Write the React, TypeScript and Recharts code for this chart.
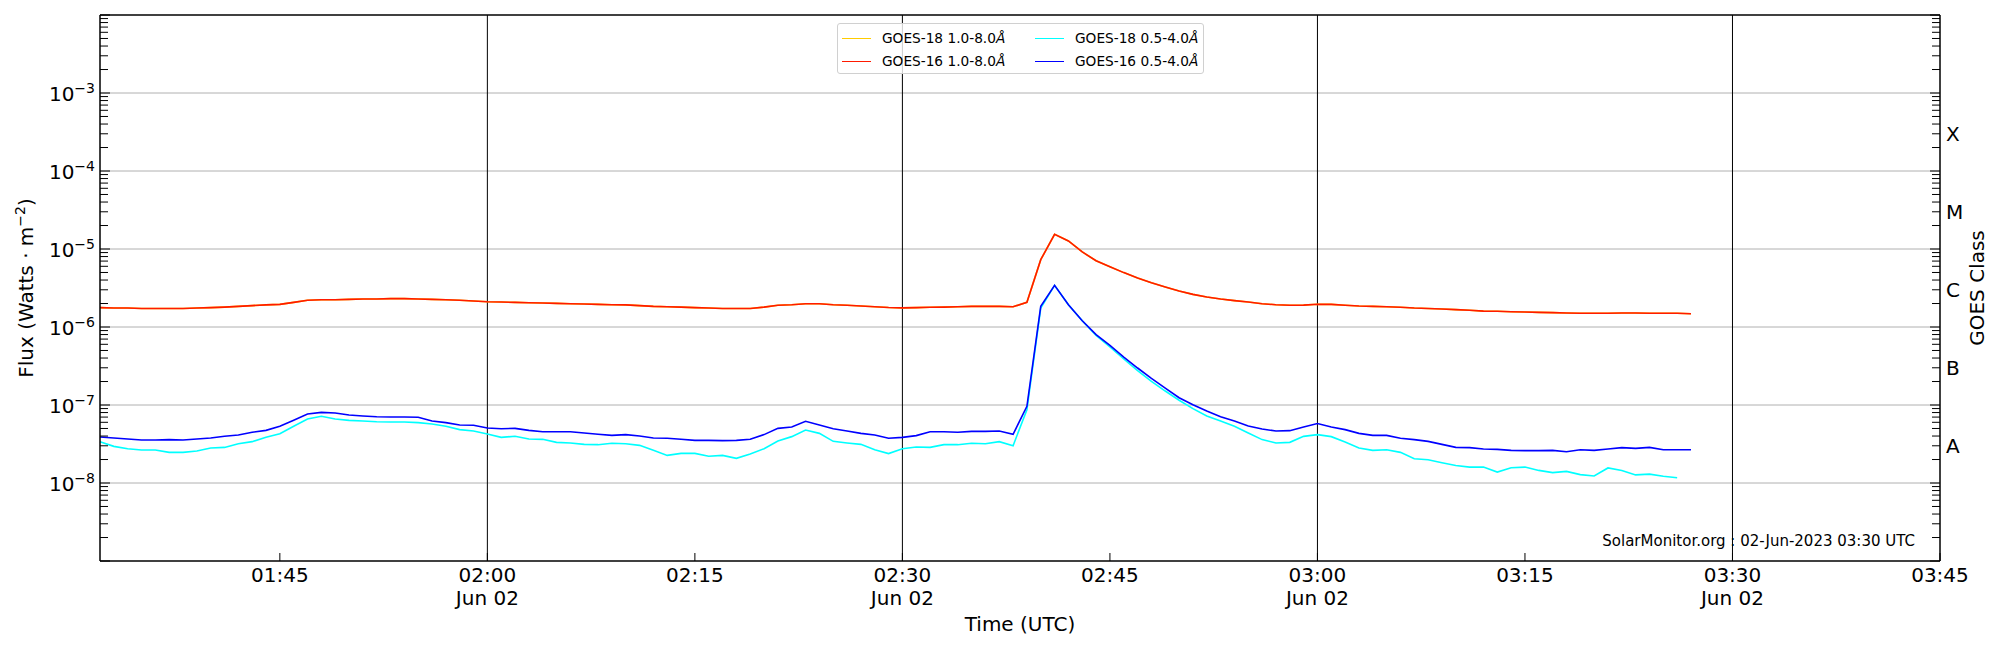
import { LineChart, Line, XAxis, YAxis, ReferenceLine, Legend } from "recharts";

const FONT = "'DejaVu Sans', sans-serif";

// one sample per minute starting at START
const START = "01:32";
const END = "03:45";

// GOES-16 1.0-8.0 Å, in units of 1e-6 W/m²
const goes16Long = [
  1.77, 1.75, 1.75, 1.73, 1.73, 1.73, 1.73, 1.75, 1.77, 1.8,
  1.84, 1.88, 1.92, 1.95, 2.07, 2.2, 2.24, 2.24, 2.26, 2.29,
  2.29, 2.31, 2.31, 2.29, 2.26, 2.24, 2.2, 2.15, 2.11, 2.09,
  2.07, 2.05, 2.03, 2.01, 1.99, 1.97, 1.95, 1.93, 1.92, 1.88,
  1.84, 1.82, 1.8, 1.77, 1.75, 1.73, 1.73, 1.73, 1.8, 1.9,
  1.93, 1.99, 1.99, 1.93, 1.9, 1.86, 1.82, 1.78, 1.76, 1.77,
  1.79, 1.8, 1.82, 1.84, 1.84, 1.84, 1.82, 2.07, 7.3, 15.4,
  12.7, 9.16, 7.08, 5.94, 4.98, 4.25, 3.7, 3.26, 2.9, 2.62,
  2.43, 2.29, 2.18, 2.09, 1.99, 1.93, 1.9, 1.91, 1.96, 1.95,
  1.9, 1.86, 1.84, 1.82, 1.79, 1.75, 1.73, 1.7, 1.67, 1.64,
  1.6, 1.59, 1.57, 1.56, 1.54, 1.53, 1.51, 1.5, 1.5, 1.5,
  1.51, 1.51, 1.5, 1.5, 1.5, 1.48
];

// GOES-18 1.0-8.0 Å sits right under the GOES-16 trace
const goes18Long = goes16Long;

// GOES-16 0.5-4.0 Å, in units of 1e-8 W/m²
const goes16Short = [
  3.89, 3.78, 3.67, 3.56, 3.56, 3.6, 3.56, 3.67, 3.78, 3.97,
  4.12, 4.47, 4.73, 5.33, 6.36, 7.67, 8.05, 7.9, 7.45, 7.23,
  7.08, 7.02, 7.02, 6.95, 6.24, 5.94, 5.54, 5.49, 5.07, 4.97,
  5.02, 4.73, 4.55, 4.55, 4.55, 4.38, 4.21, 4.08, 4.17, 4.01,
  3.78, 3.74, 3.63, 3.52, 3.52, 3.49, 3.52, 3.63, 4.17, 5.02,
  5.22, 6.18, 5.54, 4.97, 4.64, 4.33, 4.12, 3.74, 3.85, 4.05,
  4.55, 4.55, 4.47, 4.59, 4.59, 4.64, 4.21, 9.6, 184, 342,
  193, 120, 79.7, 58.2, 41.2, 29.8, 22.0, 16.5, 12.4, 10.1,
  8.37, 7.08, 6.23, 5.38, 4.92, 4.64, 4.69, 5.22, 5.8, 5.22,
  4.83, 4.33, 4.08, 4.08, 3.74, 3.6, 3.42, 3.13, 2.86, 2.84,
  2.73, 2.7, 2.62, 2.6, 2.6, 2.62, 2.52, 2.67, 2.62, 2.73,
  2.84, 2.78, 2.86, 2.67, 2.67, 2.67
];

// GOES-18 0.5-4.0 Å, in units of 1e-8 W/m²
const goes18Short = [
  3.39, 2.95, 2.75, 2.65, 2.65, 2.47, 2.47, 2.57, 2.81, 2.86,
  3.19, 3.39, 3.85, 4.29, 5.33, 6.62, 7.16, 6.62, 6.36, 6.24,
  6.11, 6.05, 6.05, 5.94, 5.71, 5.33, 4.83, 4.64, 4.25, 3.85,
  3.97, 3.67, 3.63, 3.32, 3.26, 3.13, 3.1, 3.23, 3.19, 3.04,
  2.62, 2.26, 2.4, 2.4, 2.2, 2.26, 2.07, 2.36, 2.75, 3.45,
  3.93, 4.78, 4.33, 3.42, 3.26, 3.13, 2.67, 2.38, 2.75, 2.9,
  2.86, 3.1, 3.1, 3.23, 3.19, 3.39, 3.01, 8.7, 175, 342,
  193, 120, 78.2, 55.4, 38.9, 27.5, 20.1, 15.1, 11.5, 8.98,
  7.23, 6.23, 5.33, 4.38, 3.6, 3.26, 3.32, 3.96, 4.17, 3.93,
  3.36, 2.81, 2.62, 2.67, 2.47, 2.05, 1.99, 1.82, 1.68, 1.6,
  1.6, 1.38, 1.57, 1.6, 1.45, 1.36, 1.41, 1.28, 1.23, 1.56,
  1.45, 1.27, 1.3, 1.22, 1.17
];

const xTickTimes = ["01:45", "02:00", "02:15", "02:30", "02:45", "03:00", "03:15", "03:30", "03:45"];
const xTickDates = ["", "Jun 02", "", "Jun 02", "", "Jun 02", "", "Jun 02", ""];
const dayMarkers = ["02:00", "02:30", "03:00", "03:30"];

const decades = [-9, -8, -7, -6, -5, -4, -3, -2];
const labelledDecades = [-8, -7, -6, -5, -4, -3];
const classNames = ["A", "B", "C", "M", "X"];
const classValues = [3e-8, 3e-7, 3e-6, 3e-5, 3e-4];

// legend fills column by column, like matplotlib's ncol=2
const legendOrder = ["g18l", "g16l", "g18s", "g16s"];

const toMinutes = (s: string) => {
  const [h, m] = s.split(":").map(Number);
  return h * 60 + m;
};

const t0 = toMinutes(START);
const rows = goes16Long.map((v, i) => ({
  t: t0 + i,
  g18l: goes18Long[i] * 1e-6,
  g16l: v * 1e-6,
  g18s: goes18Short[i] !== undefined ? goes18Short[i] * 1e-8 : null,
  g16s: goes16Short[i] * 1e-8
}));

// log ticks: every mantissa 1..9 in each decade
const fluxTicks: number[] = [];
decades.forEach((d) => {
  for (let m = 1; m <= 9; m++) {
    const v = m * Math.pow(10, d);
    if (v <= 1.0000001e-2) fluxTicks.push(v);
  }
});

const PLOT_LEFT = 100;
const PLOT_RIGHT = 1940;
const PLOT_BOTTOM = 561;

const isDecade = (v: number) => {
  const e = Math.log10(v);
  return Math.abs(e - Math.round(e)) < 1e-6;
};

const FluxTick = (props: any) => {
  const { y, payload } = props;
  const v = payload.value;
  const major = isDecade(v);
  const e = Math.round(Math.log10(v));
  return (
    <g>
      <line x1={PLOT_LEFT} x2={PLOT_LEFT + (major ? 10 : 8)} y1={y} y2={y} stroke='#000' />
      {major && labelledDecades.includes(e) && (
        <text x={95} y={y + 8} textAnchor='end' fontSize={20} fill='#000' fontFamily={FONT}>
          10
          <tspan fontSize={14} dy={-8}>{`\u2212${-e}`}</tspan>
        </text>
      )}
    </g>
  );
};

const ClassTick = (props: any) => {
  const { y, payload } = props;
  const v = payload.value;
  const major = isDecade(v);
  const idx = classValues.findIndex((c) => Math.abs(c - v) / c < 1e-6);
  return (
    <g>
      <line x1={PLOT_RIGHT} x2={PLOT_RIGHT - (major ? 10 : 8)} y1={y} y2={y} stroke='#000' />
      {idx >= 0 && (
        <text x={1946} y={y + 7} textAnchor='start' fontSize={20} fill='#000' fontFamily={FONT}>
          {classNames[idx]}
        </text>
      )}
    </g>
  );
};

const TimeTick = (props: any) => {
  const { x, payload } = props;
  const i = xTickTimes.findIndex((s) => toMinutes(s) === payload.value);
  return (
    <g>
      <line x1={x} x2={x} y1={PLOT_BOTTOM} y2={PLOT_BOTTOM - 8} stroke='#000' />
      <text x={x} y={582} textAnchor='middle' fontSize={20} fill='#000' fontFamily={FONT}>
        {xTickTimes[i]}
      </text>
      {xTickDates[i] && (
        <text x={x} y={605} textAnchor='middle' fontSize={20} fill='#000' fontFamily={FONT}>
          {xTickDates[i]}
        </text>
      )}
    </g>
  );
};

const LegendBox = ({ payload }: { payload?: any[] }) => {
  const items = legendOrder
    .map((key) => (payload || []).find((p: any) => p.dataKey === key))
    .filter(Boolean);
  return (
    <div
      style={{
        position: "relative",
        width: 367,
        height: 51,
        border: "1px solid #d0d0d0",
        borderRadius: 3,
        background: "rgba(255,255,255,0.8)",
        boxSizing: "border-box",
        fontFamily: FONT,
        fontSize: 13.7,
        color: "#000"
      }}
    >
      {items.map((entry: any, i: number) => {
        const col = Math.floor(i / 2);
        const row = i % 2;
        const name: string = entry.value;
        return (
          <div
            key={name}
            style={{
              position: "absolute",
              left: 4 + col * 193,
              top: 14 + row * 23.4 - 9,
              height: 18,
              display: "flex",
              alignItems: "center",
              whiteSpace: "nowrap"
            }}
          >
            <span
              style={{
                display: "inline-block",
                width: 29,
                height: 0,
                borderTop: `1.5px solid ${entry.color}`,
                marginRight: 11
              }}
            />
            <span>
              {name.slice(0, -1)}
              <i>{name.slice(-1)}</i>
            </span>
          </div>
        );
      })}
    </div>
  );
};

const App = () => {
  return (
    <div style={{ position: "absolute", left: 0, top: 0, width: 2000, height: 650, background: "#fff" }}>
      <LineChart width={2000} height={650} data={rows} margin={{ top: 15, right: 0, bottom: 0, left: 0 }}>
        <XAxis
          dataKey='t'
          type='number'
          domain={[t0, toMinutes(END)]}
          ticks={xTickTimes.map(toMinutes)}
          interval={0}
          height={89}
          tick={<TimeTick />}
          tickLine={false}
          axisLine={{ stroke: "#000", strokeWidth: 1.5 }}
          label={() => (
            <text x={1020} y={631} textAnchor='middle' fontSize={20} fill='#000' fontFamily={FONT}>
              Time (UTC)
            </text>
          )}
        />
        <YAxis
          yAxisId='flux'
          scale='log'
          domain={[1e-9, 1e-2]}
          allowDataOverflow
          ticks={fluxTicks}
          interval={0}
          width={100}
          tick={<FluxTick />}
          tickLine={false}
          axisLine={{ stroke: "#000", strokeWidth: 1.5 }}
          label={() => (
            <text
              x={33}
              y={288}
              transform='rotate(-90, 33, 288)'
              textAnchor='middle'
              fontSize={20}
              fill='#000'
              fontFamily={FONT}
            >
              Flux (Watts · m
              <tspan fontSize={14} dy={-8}>
                −2
              </tspan>
              <tspan dy={8}>)</tspan>
            </text>
          )}
        />
        <YAxis
          yAxisId='class'
          orientation='right'
          scale='log'
          domain={[1e-9, 1e-2]}
          allowDataOverflow
          ticks={fluxTicks}
          interval={0}
          width={60}
          tick={<ClassTick />}
          tickLine={false}
          axisLine={{ stroke: "#000", strokeWidth: 1.5 }}
          label={() => (
            <text
              x={1984}
              y={288}
              transform='rotate(-90, 1984, 288)'
              textAnchor='middle'
              fontSize={20}
              fill='#000'
              fontFamily={FONT}
            >
              GOES Class
            </text>
          )}
        />
        {decades.slice(1, -1).map((d) => (
          <ReferenceLine key={d} yAxisId='flux' y={Math.pow(10, d)} stroke='#b0b0b0' strokeWidth={1} />
        ))}
        <ReferenceLine yAxisId='flux' y={1e-2} stroke='#000' strokeWidth={1.5} />
        {dayMarkers.map((s) => (
          <ReferenceLine key={s} yAxisId='flux' x={toMinutes(s)} stroke='#000' strokeWidth={1} />
        ))}
        <Line yAxisId='flux' type='linear' dataKey='g18l' name='GOES-18 1.0-8.0Å' stroke='#ffcc00' strokeWidth={1.6} dot={false} activeDot={false} isAnimationActive={false} />
        <Line yAxisId='flux' type='linear' dataKey='g16l' name='GOES-16 1.0-8.0Å' stroke='#ff1a00' strokeWidth={1.6} dot={false} activeDot={false} isAnimationActive={false} />
        <Line yAxisId='flux' type='linear' dataKey='g18s' name='GOES-18 0.5-4.0Å' stroke='#00ffff' strokeWidth={1.6} dot={false} activeDot={false} isAnimationActive={false} />
        <Line yAxisId='flux' type='linear' dataKey='g16s' name='GOES-16 0.5-4.0Å' stroke='#0000ff' strokeWidth={1.6} dot={false} activeDot={false} isAnimationActive={false} />
        <Legend
          layout='horizontal'
          verticalAlign='middle'
          align='center'
          content={<LegendBox />}
          wrapperStyle={{ left: 837, top: 23, width: 367, height: 51 }}
        />
      </LineChart>
      <div
        style={{
          position: "absolute",
          right: 2000 - 1915,
          top: 532,
          fontFamily: FONT,
          fontSize: 15,
          color: "#000",
          whiteSpace: "nowrap",
          lineHeight: "18px"
        }}
      >
        SolarMonitor.org : 02-Jun-2023 03:30 UTC
      </div>
    </div>
  );
};

export default App;
